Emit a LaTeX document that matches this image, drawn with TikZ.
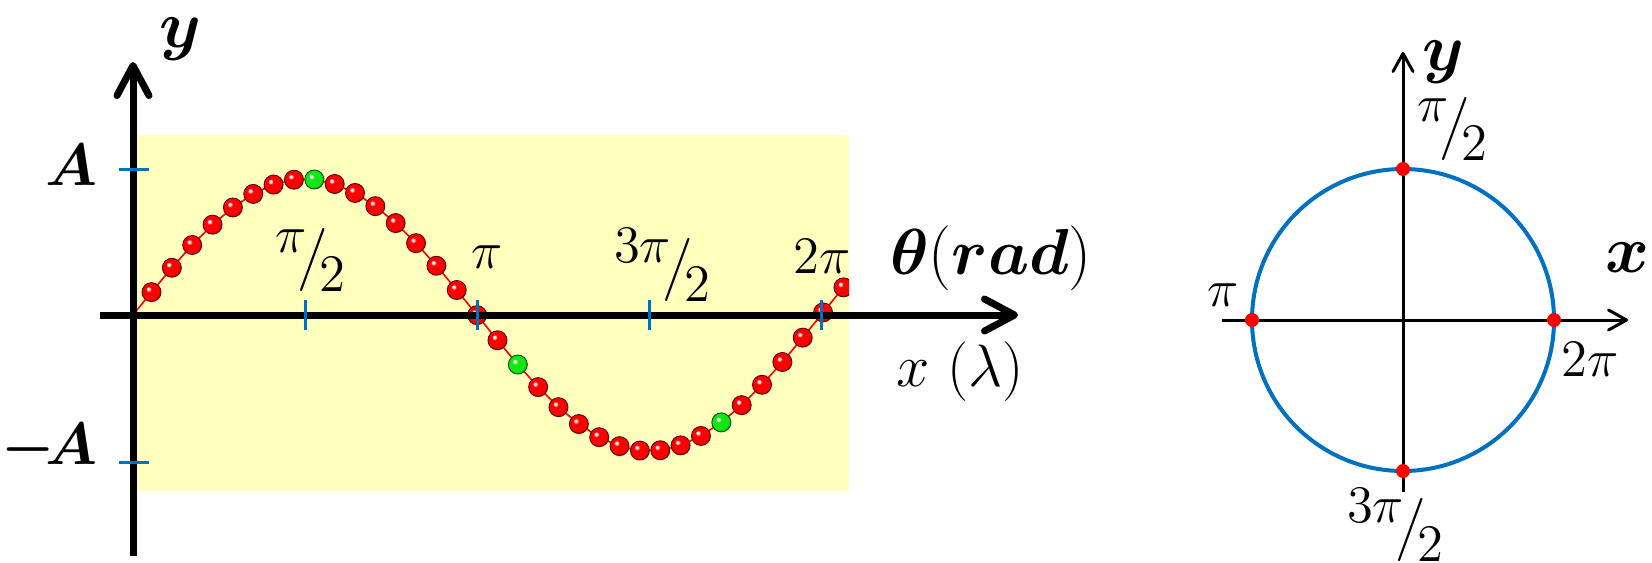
\RequirePackage{fix-cm}
\documentclass[tikz,border=0pt]{standalone}
\usepackage{amsmath,amssymb}
\usepackage{tikz}
\usetikzlibrary{arrows.meta}
\definecolor{tickblue}{RGB}{0,112,192}
\definecolor{paleyellow}{RGB}{255,255,190}
\definecolor{beadgreen}{RGB}{20,230,20}
\pgfdeclareradialshading{redbead}{\pgfqpoint{-9bp}{9bp}}{color(0bp)=(white); color(3bp)=(white);
  color(7bp)=(red); color(24bp)=(red); color(32bp)=(red!55!black); color(50bp)=(red!40!black)}
\pgfdeclareradialshading{greenbead}{\pgfqpoint{-9bp}{9bp}}{color(0bp)=(white); color(3bp)=(white);
  color(7bp)=(beadgreen); color(24bp)=(beadgreen); color(32bp)=(beadgreen!55!black); color(50bp)=(beadgreen!40!black)}
\tikzset{
  bigaxis/.style   = {-{Straight Barb[length=3mm,width=3.2mm,round]},line width=0.07cm},
  smallaxis/.style = {-{Straight Barb[length=1.8mm,width=2mm,round]},line width=0.03cm},
  tickmark/.style  = {tickblue,line width=0.03cm},
  beadline/.style  = {red,line width=0.45pt},
  bead/.style      = {shading=#1,line width=0.25pt},
  ticklbl/.style   = {font=\fontsize{15}{18}\selectfont,inner sep=0pt},
  axislbl/.style   = {font=\fontsize{19}{23}\selectfont,inner sep=0pt}
}
\newcommand{\halfof}[2]{\raisebox{0.4em}{$#1$}\!\big/\!\raisebox{-0.35em}{$#2$}}

\begin{document}
\begin{tikzpicture}
  \useasboundingbox (-1.33,-2.47) rectangle (15.19,3.15);
  \fill[paleyellow] (0,-1.76) rectangle (7.16,1.80);
  \foreach \k in {0,...,34}
    \coordinate (c\k) at ({0.185+0.2035*\k},{1.36*sin((0.185+0.2035*\k)*360/6.88)});
  \begin{scope}
    \clip (0,-1.76) rectangle (7.16,1.80);
    \draw[beadline] (0,0) \foreach \k in {0,...,34}{ -- (c\k)};
    \foreach \k [evaluate=\k as \g using {int(mod(\k,10)==8)}] in {0,...,34}{
      \ifnum\g=1 \shadedraw[bead=greenbead,draw=green!30!black] (c\k) circle (0.095);
      \else \shadedraw[bead=redbead,draw=red!35!black] (c\k) circle (0.095); \fi
    }
  \end{scope}
  \coordinate (xs) at (-0.33,0);
  \coordinate (xe) at (8.85,0);
  \coordinate (ys) at (0,-2.41);
  \coordinate (ye) at (0,2.53);
  \draw[bigaxis] (xs) -- (xe);
  \draw[bigaxis] (ys) -- (ye);
  \foreach \i in {1,...,4} \draw[tickmark] (1.72*\i,-0.15) -- (1.72*\i,0.15);
  \draw[tickmark] (-0.14,1.46) -- (0.16,1.46);
  \draw[tickmark] (-0.14,-1.47) -- (0.16,-1.47);
  \node[axislbl] (ylab) at (0.47,2.76) {$\boldsymbol{y}$};
  \node[axislbl,font=\fontsize{17}{20}\selectfont,anchor=east] (alab) at (-0.35,1.50) {$\boldsymbol{A}$};
  \node[axislbl,font=\fontsize{17}{20}\selectfont,anchor=east] (malab) at (-0.35,-1.33) {$\boldsymbol{-}\!\boldsymbol{A}$};
  \node[ticklbl] (t1) at (1.77,0.55) {$\halfof{\pi}{2}$};
  \node[ticklbl] (t2) at (3.54,0.58) {$\pi$};
  \node[ticklbl] (t3) at (5.29,0.50) {$\halfof{3\pi}{2}$};
  \node[ticklbl] (t4) at (6.89,0.58) {$2\pi$};
  \node[font=\fontsize{18.5}{22}\selectfont,inner sep=0pt] (thlab) at (8.58,0.57) {$\boldsymbol{\theta}(\boldsymbol{rad})$};
  \node[font=\fontsize{17}{20}\selectfont,inner sep=0pt] (xlab) at (8.27,-0.57) {$x\ (\lambda)$};

  \node[circle,draw=tickblue,line width=0.04cm,minimum size=3.02cm,outer sep=0pt] (wheel) at (12.70,-0.05) {};
  \coordinate (hs) at (10.89,-0.05);
  \coordinate (he) at (14.95,-0.05);
  \coordinate (vs) at (12.70,-1.77);
  \coordinate (ve) at (12.70,2.63);
  \draw[smallaxis] (hs) -- (he);
  \draw[smallaxis] (vs) -- (ve);
  \foreach \a in {north,south,east,west} \fill[red] (wheel.\a) circle (0.07);
  \node[axislbl] (ylab2) at (13.10,2.53) {$\boldsymbol{y}$};
  \node[axislbl] (xlab2) at (14.94,0.57) {$\boldsymbol{x}$};
  \node[ticklbl] (r1) at (13.19,1.86) {$\halfof{\pi}{2}$};
  \node[ticklbl] (r2) at (10.90,0.20) {$\pi$};
  \node[ticklbl] (r3) at (14.57,-0.45) {$2\pi$};
  \node[ticklbl] (r4) at (12.62,-2.10) {$\halfof{3\pi}{2}$};
\end{tikzpicture}
\end{document}
